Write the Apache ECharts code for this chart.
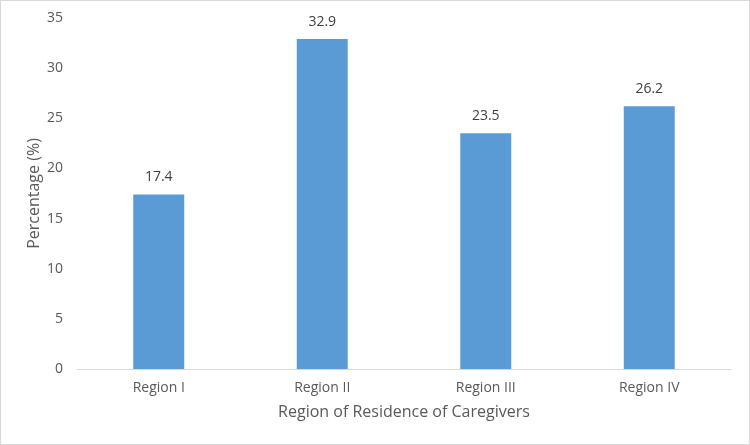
<!doctype html>
<html>
<head>
    <meta charset="utf-8" />
    <title>Region of Residence of Caregivers</title>
    <script src="https://cdn.jsdelivr.net/npm/echarts@6/dist/echarts.min.js"></script>
    <style>
        html, body { margin: 0; padding: 0; background: #fff; }
        #main {
            width: 748px;
            height: 443px;
            border: 1px solid #d9d9d9;
        }
    </style>
</head>
<body>
<div id="main"></div>
<script type="text/javascript">
    // data
    var regions = ['Region I', 'Region II', 'Region III', 'Region IV'];
    var percents = [17.4, 32.9, 23.5, 26.2];
    var yTicks = [0, 5, 10, 15, 20, 25, 30, 35];

    var textColor = '#595959';
    var fontFam = '"Open Sans", "Liberation Sans", sans-serif';

    var myChart = echarts.init(document.getElementById('main'));

    var option = {
        animation: false,
        grid: {
            left: 76,
            right: 18,
            top: 17,
            bottom: 75
        },
        xAxis: {
            type: 'category',
            data: regions,
            name: 'Region of Residence of Caregivers',
            nameLocation: 'middle',
            nameGap: 35,
            nameTextStyle: { color: textColor, fontSize: 16, fontFamily: fontFam },
            axisLine: { lineStyle: { color: '#d9d9d9', width: 1 } },
            axisTick: { show: false },
            axisLabel: { color: textColor, fontSize: 14, fontFamily: fontFam, margin: 12 }
        },
        yAxis: {
            type: 'value',
            min: yTicks[0],
            max: yTicks[yTicks.length - 1],
            interval: 5,
            name: 'Percentage (%)',
            nameLocation: 'middle',
            nameGap: 35,
            nameMoveOverlap: false,
            nameTextStyle: { color: textColor, fontSize: 16, fontFamily: fontFam },
            axisLine: { show: false },
            axisTick: { show: false },
            splitLine: { show: false },
            axisLabel: { color: textColor, fontSize: 14, fontFamily: fontFam, margin: 14 }
        },
        series: [{
            type: 'bar',
            data: percents,
            barWidth: 51,
            itemStyle: { color: '#5b9bd5' },
            label: {
                show: true,
                position: 'top',
                distance: 10,
                color: '#404040',
                fontSize: 14,
                fontFamily: fontFam
            }
        }]
    };
    myChart.setOption(option);
</script>
</body>
</html>
